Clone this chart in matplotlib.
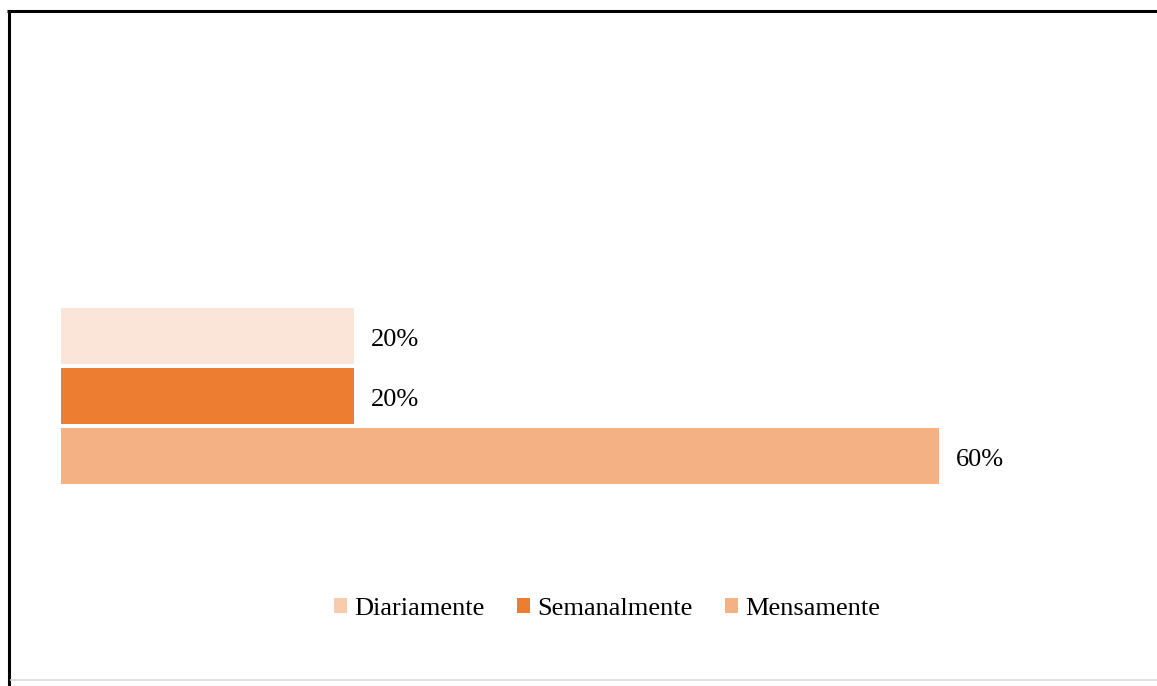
import matplotlib
matplotlib.use("Agg")
import matplotlib.pyplot as plt
from matplotlib.patches import Patch
from matplotlib.lines import Line2D

categories = ["Diariamente", "Semanalmente", "Mensamente"]
values = [0.20, 0.20, 0.60]
labels = ["20%", "20%", "60%"]
bar_colors = ["#FAE5D8", "#ED7D31", "#F4B183"]
legend_colors = ["#F8CBAD", "#ED7D31", "#F4B183"]

W, H = 1157, 686
plt.rcParams['font.family'] = ['Liberation Serif', 'DejaVu Serif']
fig = plt.figure(figsize=(W / 100, H / 100), dpi=100)

def fx(px):
    return px / W

def fy(py):
    return 1 - py / H

ax_left, ax_right, ax_top, ax_bot = 61, 1120, 20, 560
ax = fig.add_axes([fx(ax_left), fy(ax_bot), fx(ax_right - ax_left), (ax_bot - ax_top) / H])
ax.axis('off')
px_per_unit_x = (939 - 61) / 0.60
ax.set_xlim(0, (ax_right - ax_left) / px_per_unit_x)
top_val = -(336 - ax_top) / 60
ax.set_ylim(top_val + (ax_bot - ax_top) / 60, top_val)

pos = list(range(len(categories)))
ax.barh(pos, values, height=56 / 60, color=bar_colors)
for p, v, t in zip(pos, values, labels):
    ax.annotate(t, (v, p), xytext=(17, -4), textcoords='offset pixels',
                va='center', ha='left', fontsize=19, color='black')

handles = [Patch(facecolor=c, edgecolor='none') for c in legend_colors]
fig.legend(handles, categories, loc='center', bbox_to_anchor=(fx(607), fy(609)),
           ncol=3, frameon=False, fontsize=19, handlelength=0.5, handleheight=0.5,
           handletextpad=0.25, columnspacing=1.25)

# border
fig.add_artist(Line2D([fx(7), fx(1157)], [fy(11), fy(11)], color='black', lw=2.2,
                      solid_capstyle='butt', transform=fig.transFigure))
fig.add_artist(Line2D([fx(8.5), fx(8.5)], [fy(10), fy(686)], color='black', lw=2.2,
                      solid_capstyle='butt', transform=fig.transFigure))
fig.add_artist(Line2D([fx(10), fx(1157)], [fy(679.5), fy(679.5)], color='#D9D9D9', lw=1.2,
                      solid_capstyle='butt', transform=fig.transFigure))

fig.savefig("out.png", dpi=100)
